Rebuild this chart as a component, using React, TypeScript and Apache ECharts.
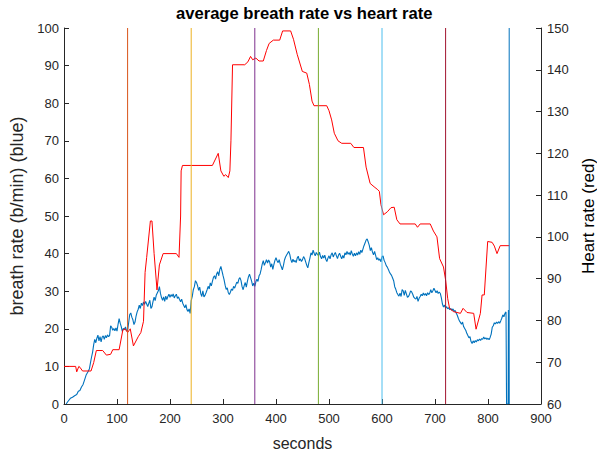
import React, { useEffect, useRef } from "react";
import * as echarts from "echarts";

const chartTitle = "average breath rate vs heart rate";
const xLabel = "seconds";
const leftLabel = "breath rate (b/min) (blue)";
const rightLabel = "Heart rate (red)";

const markerSeconds = [120, 240, 360, 480, 600, 720, 840];
const markerColors = ["#D95319", "#EDB120", "#7E2F8E", "#77AC30", "#4DBEEE", "#A2142F", "#0072BD"];

// heart rate (bpm) on right axis: [seconds, bpm]
const heartRate: [number, number][] = [
  [0, 69], [22, 69], [24, 67.7], [28, 69], [30, 68.8], [35, 67.9], [51, 67.9], [56, 69.9], [61, 72.8],
  [73, 72.8], [80, 71.7], [88, 71.9], [92, 73], [104, 73], [111, 77.7], [115, 78], [120, 77.1], [125, 78],
  [131, 73.9], [140, 76.1], [145, 77.1], [150, 79.8], [153, 91.5], [156, 95.1], [163, 103.8], [166, 103.8],
  [170, 96], [175.5, 87.3], [180, 93.3], [187, 96], [212, 96], [217, 95.1], [220, 105], [221, 115.8],
  [223.5, 117.1], [280, 117.1], [291, 120], [296, 115.8], [301.6, 114.5], [305, 114.9], [310, 114.2],
  [313, 115.8], [315, 123], [318, 141.2], [341, 141.2], [347, 141.9], [352, 143.2], [356, 142.4], [362, 142.8],
  [368, 142.1], [376, 142.1], [382, 144.6], [387, 146.3], [395, 147.1], [407, 147.1], [412.5, 149.3],
  [427.6, 149.3], [433, 147.3], [440, 143.7], [449.7, 139.6], [458, 139.2], [463, 136.5], [468, 132.5],
  [471.7, 131.4], [495.7, 131.4], [500, 130.2], [505, 128], [510, 124.8], [517, 123], [524, 122.4],
  [541, 122.4], [547, 121.4], [565, 121.4], [570, 116.7], [577.6, 112.8], [585, 112], [592, 111.3],
  [595, 110.9], [598, 107.7], [603, 105.3], [610, 106], [617, 107], [623, 107.1], [628, 104.1], [634, 103.1],
  [662.7, 103.1], [667, 102.3], [672, 103.1], [691, 103.1], [697, 101.4], [703.7, 100], [708.7, 94.8],
  [716, 92.8], [720, 89.7], [724, 85.2], [727.5, 82.9], [735, 82.1], [748, 81.7], [753, 82.9], [760.4, 81.9],
  [773, 81.7], [777.5, 77.9], [785.6, 81.7], [788.8, 86.1], [793, 86.1], [799.4, 98.9], [807.7, 98.7],
  [812, 97.8], [817, 96], [823, 97.9], [840, 97.9],
];

// breath rate (b/min) on left axis: [seconds, b/min]
const breathRate: [number, number][] = [
  [4, 0], [8, 0.8], [12, 1.5], [16, 1.8], [20, 2.2], [24, 2.5], [27, 3.4], [30, 3.6], [33, 4.5], [36, 5.2],
  [39, 6.5], [42, 7.8], [45, 8.5], [48, 9.4], [50, 11], [52, 12.5], [54, 13.8], [56, 15.8], [58, 17.2],
  [60, 16.3], [62, 17.5], [64, 18.3], [66, 16.8], [68, 17.9], [70, 16.5], [72, 17.8], [74, 18.1], [76, 17.2],
  [78, 18.2], [80, 17.6], [82, 18.4], [84, 17.9], [86, 18.2], [88, 20.8], [90, 20.4], [92, 19.6], [94, 20.1],
  [96, 19.5], [98, 20.2], [100, 19.4], [102, 21.2], [104, 22.7], [106, 21.5], [108, 20.6], [110, 19.3],
  [112, 20.1], [114, 19.8], [116, 20.5], [118, 19.6], [120, 19.5], [122, 21.6], [124, 23.8], [126, 24.2],
  [128, 23.1], [130, 22.4], [132, 21.1], [134, 21.8], [136, 23.4], [138, 24.5], [140, 25.2], [142, 26.3],
  [144, 25.4], [146, 26.8], [148, 26.2], [150, 27.1], [152, 26.5], [154, 27.3], [156, 26.6], [158, 25.9],
  [160, 26.8], [162, 27.6], [164, 25.4], [166, 25.9], [168, 27.3], [170, 28.4], [172, 27.5], [174, 28.9],
  [176, 29.5], [178, 30.1], [180, 31.2], [182, 29.4], [184, 28.3], [186, 27.6], [188, 28.5], [190, 27.3],
  [192, 28.7], [194, 27.8], [196, 28.6], [198, 29.2], [200, 28.4], [202, 29.1], [204, 28.6], [206, 29.3],
  [208, 28.2], [210, 28.8], [212, 29.2], [214, 28.1], [216, 28.5], [218, 27.8], [220, 27.2], [222, 27.9],
  [224, 26.8], [226, 26.2], [228, 25.6], [230, 26.4], [232, 25.1], [234, 24.6], [236, 25.3], [238, 24.1],
  [240, 27.5], [242, 28.6], [244, 30.4], [246, 31.2], [248, 32.8], [250, 32.3], [252, 31.5], [254, 30.2],
  [256, 31.1], [258, 29.4], [260, 28.6], [262, 30.1], [264, 28.5], [266, 28.9], [268, 29.6], [270, 30.4],
  [272, 31.3], [274, 30.6], [276, 32.2], [278, 31.4], [280, 32.6], [282, 33.7], [284, 34.1], [286, 33.2],
  [288, 34.6], [290, 35.2], [292, 34.1], [294, 35.8], [296, 36.6], [298, 35.4], [300, 34.2], [302, 33.1],
  [304, 31.6], [306, 30.5], [308, 30.9], [310, 29.6], [312, 29.1], [314, 29.8], [316, 30.6], [318, 30.2],
  [320, 31.3], [322, 30.8], [324, 31.6], [326, 32.4], [328, 32.1], [330, 33.2], [332, 33.6], [334, 32.8],
  [336, 31.2], [338, 30.4], [340, 31.5], [342, 32.3], [344, 31.1], [346, 32.6], [348, 33.8], [350, 34.5],
  [352, 33.6], [354, 32.7], [356, 31.4], [358, 32.1], [360, 31.3], [362, 32.5], [364, 33.2], [366, 32.6],
  [368, 34.1], [370, 34.6], [372, 35.8], [374, 37.2], [376, 38.1], [378, 36.9], [380, 37.6], [382, 38.4],
  [384, 37.5], [386, 38.3], [388, 37.8], [390, 36.4], [392, 37.3], [394, 35.8], [396, 37.1], [398, 38.2],
  [400, 38.9], [402, 38.1], [404, 37.6], [406, 38.4], [408, 37.2], [410, 36.5], [412, 35.7], [414, 36.8],
  [416, 38.3], [418, 39.1], [420, 39.6], [422, 40.1], [424, 40.6], [426, 39.8], [428, 38.4], [430, 37.6],
  [432, 38.5], [434, 37.8], [436, 38.2], [438, 37.6], [440, 38.8], [442, 39.3], [444, 38.1], [446, 38.6],
  [448, 37.9], [450, 38.4], [452, 39.2], [454, 38.7], [456, 37.8], [458, 36.9], [460, 36.2], [462, 37.6],
  [464, 38.8], [466, 40.2], [468, 39.6], [470, 40.9], [472, 40.1], [474, 39.4], [476, 40.3], [478, 39.8],
  [480, 39.5], [482, 40.4], [484, 39.2], [486, 38.6], [488, 39.5], [490, 38.8], [492, 39.6], [494, 38.5],
  [496, 37.9], [498, 38.8], [500, 39.4], [502, 38.6], [504, 39.7], [506, 40.2], [508, 39.1], [510, 39.8],
  [512, 40.3], [514, 39.4], [516, 38.7], [518, 39.6], [520, 40.1], [522, 39.3], [524, 38.6], [526, 39.5],
  [528, 38.8], [530, 40.2], [532, 39.7], [534, 40.6], [536, 39.8], [538, 40.3], [540, 39.6], [542, 40.8],
  [544, 39.9], [546, 39.3], [548, 40.1], [550, 39.4], [552, 40.2], [554, 39.6], [556, 40.5], [558, 39.8],
  [560, 40.9], [562, 40.3], [564, 41.2], [566, 42.1], [568, 42.8], [570, 43.6], [572, 43.9], [574, 43.1],
  [576, 42.2], [578, 40.8], [580, 41.6], [582, 40.4], [584, 39.7], [586, 40.6], [588, 39.5], [590, 38.4],
  [592, 38.9], [594, 38.2], [596, 38.6], [598, 37.8], [600, 39.1], [602, 39.4], [604, 38.2], [606, 37.6],
  [608, 36.8], [610, 36.4], [612, 35.8], [614, 35.1], [616, 34.6], [618, 34.2], [620, 33.5], [622, 32.8],
  [624, 31.2], [626, 30.5], [628, 29.6], [630, 29.1], [632, 28.7], [634, 29.5], [636, 28.6], [638, 30.4],
  [640, 30.1], [642, 28.9], [644, 30.2], [646, 29.3], [648, 28.4], [650, 28.6], [652, 29.2], [654, 30.1],
  [656, 29.8], [658, 29.2], [660, 28.4], [662, 28.1], [664, 27.9], [666, 28.6], [668, 27.3], [670, 28.1],
  [672, 28.6], [674, 29.2], [676, 28.8], [678, 29.5], [680, 28.9], [682, 29.4], [684, 28.8], [686, 29.6],
  [688, 29.1], [690, 29.5], [692, 30.4], [694, 29.6], [696, 30.1], [698, 30.8], [700, 30.2], [702, 29.6],
  [704, 30.1], [706, 29.4], [708, 29.8], [710, 29.4], [712, 28.2], [714, 26.6], [716, 25.8], [718, 26.3],
  [720, 25.5], [722, 25.9], [724, 25.3], [726, 25.6], [728, 25.1], [730, 25.4], [732, 24.9], [734, 25.3],
  [736, 24.6], [738, 24.9], [740, 24.2], [742, 23.6], [744, 22.8], [746, 22.1], [748, 21.7], [750, 21.2],
  [752, 21.8], [754, 20.6], [756, 20.1], [758, 19.6], [760, 18.8], [762, 18.2], [764, 17.6], [766, 17.9],
  [768, 16.6], [770, 16.1], [772, 16.8], [774, 16.3], [776, 16.9], [778, 16.5], [780, 17.1], [782, 16.8],
  [784, 17.3], [786, 16.9], [788, 17.4], [790, 17.2], [792, 17.8], [794, 17.3], [796, 17.6], [798, 17.2],
  [800, 17.5], [802, 17.1], [804, 17.7], [806, 18.6], [808, 20.4], [810, 20.8], [812, 21.6], [814, 21.3],
  [816, 21.8], [818, 21.4], [820, 21.9], [822, 21.5], [824, 22.1], [826, 22.8], [828, 23.7], [830, 23.2],
  [832, 24.1], [834, 24.5], [835, 0], [838, 0], [838.5, 25], [839, 0],
];

const FONT = "'Liberation Sans', Arial, Helvetica, sans-serif";
const AX = "#262626";

export default function App() {
  const ref = useRef<HTMLDivElement>(null);
  useEffect(() => {
    if (!ref.current) return;
    const chart = echarts.init(ref.current, null, { renderer: "svg" });
    const markerSeries = markerSeconds.map((s, i) => ({
      type: "line",
      yAxisIndex: 0,
      data: [[s, 0], [s, 100]],
      showSymbol: false,
      symbol: "none",
      silent: true,
      lineStyle: { color: markerColors[i], width: 1 },
      z: 4,
    }));
    const axisCommon = {
      axisLine: { show: true, lineStyle: { color: AX, width: 1 } },
      axisTick: { show: true, inside: true, length: 5, lineStyle: { color: AX } },
      splitLine: { show: false },
    };
    chart.setOption({
      animation: false,
      backgroundColor: "#ffffff",
      title: {
        text: chartTitle,
        left: 176,
        top: 5,
        padding: 0,
        textStyle: { fontSize: 16.6, fontWeight: "bold", color: "#000", fontFamily: FONT },
      },
      grid: { left: 64, right: 56, top: 28, bottom: 48, containLabel: false, outerBoundsMode: "none" },
      xAxis: {
        type: "value",
        min: 0,
        max: 900,
        interval: 100,
        name: xLabel,
        nameLocation: "middle",
        nameGap: 31,
        ...axisCommon,
        nameTextStyle: { color: AX, fontSize: 16, fontFamily: FONT },
        axisLabel: { color: AX, fontSize: 13, fontFamily: FONT, margin: 8 },
      },
      yAxis: [
        {
          type: "value",
          min: 0,
          max: 100,
          interval: 10,
          position: "left",
          name: leftLabel,
          nameLocation: "middle",
          nameRotate: 90,
          nameGap: 34,
          ...axisCommon,
          nameTextStyle: { color: AX, fontSize: 18, fontFamily: FONT },
          axisLabel: { color: AX, fontSize: 13, fontFamily: FONT, margin: 5 },
        },
        {
          type: "value",
          min: 60,
          max: 150,
          interval: 10,
          position: "right",
          name: rightLabel,
          nameLocation: "middle",
          nameRotate: 90,
          nameGap: 33,
          ...axisCommon,
          nameTextStyle: { color: "#000", fontSize: 17, fontFamily: FONT },
          axisLabel: { color: AX, fontSize: 13, fontFamily: FONT, margin: 6 },
        },
      ],
      series: [
        {
          type: "line",
          yAxisIndex: 0,
          data: breathRate,
          showSymbol: false,
          symbol: "none",
          lineStyle: { color: "#0072BD", width: 1.1 },
          z: 2,
        },
        {
          type: "line",
          yAxisIndex: 1,
          data: heartRate,
          showSymbol: false,
          symbol: "none",
          lineStyle: { color: "#FF0000", width: 1 },
          z: 3,
        },
        ...markerSeries,
      ],
    });
    return () => chart.dispose();
  }, []);
  return (
    <div
      ref={ref}
      style={{ position: "fixed", left: 0, top: 0, width: 597, height: 452, background: "#fff" }}
    />
  );
}
